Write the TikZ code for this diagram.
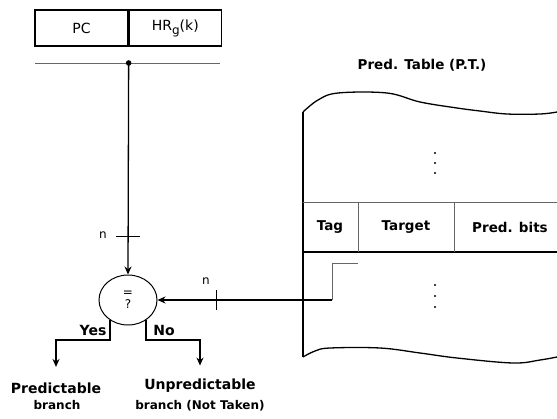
\documentclass[tikz,border=0pt]{standalone}
\usepackage{fontspec}
\setmainfont{DejaVu Sans}
\usetikzlibrary{positioning, arrows, arrows.meta, shapes.geometric}

\tikzset{
  field/.style={rectangle, draw, line width=1.3pt, minimum height=36pt, inner sep=0pt, font=\fontsize{14}{16}\selectfont},
  lbl/.style={font=\bfseries\fontsize{14}{16}\selectfont, inner sep=1pt},
  small/.style={font=\bfseries\fontsize{12}{14}\selectfont, inner sep=1pt},
  cell/.style={font=\bfseries\fontsize{13.5}{16}\selectfont, inner sep=1pt},
  thin/.style={draw=black!60, line width=1pt},
}

\begin{document}
\begin{tikzpicture}[>={Stealth[length=8pt, width=7pt]}, x=1pt, y=-1pt, line width=1.3pt]
        \useasboundingbox (0,0) rectangle (557,418);

        % register
        \node (pc) [field, minimum width=93pt] at (81.5,28) {PC};
        \node (hr) [field, minimum width=92pt, right=0pt of pc] {HR\raisebox{-4pt}{\fontsize{12}{12}\selectfont g}(k)};
        \coordinate (busl) at (35,63);
        \coordinate (busr) at (220,63);
        \coordinate (tap) at (pc.east |- busl);
        \draw[thin] (busl) -- (busr);
        \fill (tap) circle (2.8);

        % comparator
        \node (cmp) [ellipse, draw, line width=1pt, minimum width=58pt, minimum height=50pt, inner sep=0pt, align=center, font=\fontsize{12}{12}\selectfont] at (128,300) {=\\[0pt]?};

        % prediction table
        \node (title) [cell] at (422,65) {Pred. Table (P.T.)};
        \draw (303,112) -- (303,357);
        \draw plot[smooth, tension=0.6] coordinates {(303,112) (318,100) (338,93) (387,93) (420,102) (457,108) (480,111) (507,114) (540,114) (557,112)};
        \draw plot[smooth, tension=0.6] coordinates {(303,357) (315,351) (330,348) (380,348) (420,353) (457,358) (513,363) (540,360) (557,357)};
        \draw[thin] (303,202) -- (557,202);
        \draw (303,252) -- (557,252);
        \draw[thin] (358,202) -- (358,252);
        \draw[thin] (454,202) -- (454,252);
        \node (tag) [cell] at (330,227) {Tag};
        \node (target) [cell] at (406,227) {Target};
        \node (bits) [cell] at (510,227) {Pred. bits};
        \foreach \y in {153,163,173,285,296,307}
            \fill (435,\y) circle (1.1);

        % history -> comparator
        \draw[->] (tap) -- coordinate[pos=0.82] (tick1) (cmp.north);
        \draw ([xshift=-12pt]tick1) -- ([xshift=12pt]tick1);
        \node (n1) [small, font=\fontsize{12}{14}\selectfont] at (103,235) {n};

        % tag -> comparator
        \coordinate (tagtap) at (358,263);
        \coordinate (tagbend) at (332,263);
        \draw[thin] (tagtap) -- (tagbend) -- (tagbend |- cmp.east);
        \draw[->] (tagbend |- cmp.east) -- coordinate[pos=0.66] (tick2) (cmp.east);
        \draw ([yshift=-10pt]tick2) -- ([yshift=10pt]tick2);
        \node (n2) [small, font=\fontsize{12}{14}\selectfont] at (206,281) {n};

        % outcomes
        \coordinate (split) at (0,340);
        \node (pred) [lbl] at (56,388) {Predictable};
        \node (predb) [small] at (57,405) {branch};
        \node (unpred) [lbl] at (200,386) {Unpredictable};
        \node (unpredb) [small] at (200,406) {branch (Not Taken)};
        \draw[->] (cmp.228) -- (cmp.228 |- split) -| ([yshift=14pt]pred.north);
        \draw[->] (cmp.312) -- (cmp.312 |- split) -| ([yshift=12pt]unpred.north);
        \node (yes) [lbl] at (93,330) {Yes};
        \node (no) [lbl] at (164,330) {No};
\end{tikzpicture}
\end{document}
